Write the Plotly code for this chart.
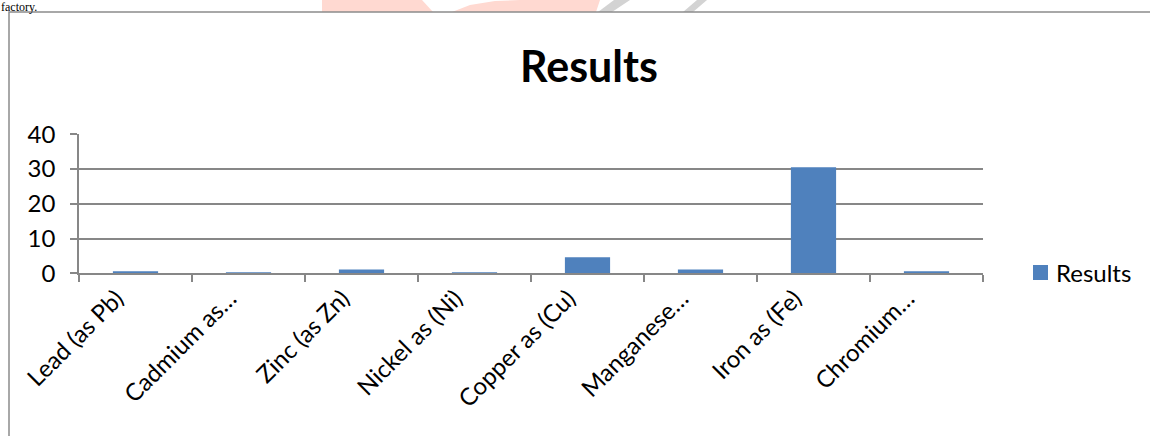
import plotly.graph_objects as go

# Metal concentrations in the effluent sample
elements = [
    "Lead (as Pb)",
    "Cadmium as…",
    "Zinc (as Zn)",
    "Nickel as (Ni)",
    "Copper as (Cu)",
    "Manganese…",
    "Iron as (Fe)",
    "Chromium…",
]
results = [0.6, 0.1, 1.1, 0.15, 4.6, 1.1, 30.5, 0.35]
y_ticks = [0, 10, 20, 30, 40]
series_name = "Results"
chart_title = "Results"

W, H = 1150, 436
FONT = "Lato"
BAR = "#4F81BD"
GRID = "#878787"


def px(x):
    return x / W


def py(y):
    return 1 - y / H


def poly(points):
    return "M" + "L".join(f"{px(x)},{py(y)}" for x, y in points) + "Z"


def deco(points, color):
    return dict(type="path", xref="paper", yref="paper", path=poly(points),
                fillcolor=color, line=dict(width=0), layer="below")


fig = go.Figure(
    go.Bar(
        x=elements,
        y=results,
        name=series_name,
        marker=dict(color=BAR, line=dict(width=0)),
        width=0.4,
        showlegend=False,
    )
)

shapes = [
    # page decoration peeking above the chart frame
    deco([(322, 0), (422, 0), (433, 12), (322, 12)], "#FFD9D1"),
    deco([(452, 12), (470, 5), (495, 1), (520, 0), (600, 0), (596, 12)], "#FFD9D1"),
    deco([(598, 12), (612, 12), (630, 0), (614, 0)], "#D3D3D3"),
    deco([(683, 12), (693, 12), (707, 0), (697, 0)], "#D3D3D3"),
    # chart frame
    dict(type="rect", xref="paper", yref="paper",
         x0=px(9), x1=px(1170), y0=py(460), y1=py(12),
         fillcolor="white", line=dict(color="#8C8C8C", width=1.5), layer="below"),
    # legend swatch
    dict(type="rect", xref="paper", yref="paper",
         x0=px(1033), x1=px(1048), y0=py(280), y1=py(265),
         fillcolor=BAR, line=dict(width=0)),
]

annotations = [
    dict(text="factory.", xref="paper", yref="paper", x=px(0), y=py(-1),
         xanchor="left", yanchor="top", showarrow=False, borderpad=0,
         font=dict(family="Liberation Serif", size=12, color="black")),
    dict(text=series_name, xref="paper", yref="paper", x=px(1054), y=py(272.5),
         xanchor="left", yanchor="middle", showarrow=False,
         font=dict(family=FONT, size=24, color="black")),
]

fig.update_layout(
    width=W,
    height=H,
    margin=dict(l=0, r=0, t=0, b=0, autoexpand=False),
    paper_bgcolor="white",
    plot_bgcolor="rgba(0,0,0,0)",
    title=dict(
        text=f"<b>{chart_title}</b>",
        x=px(589), y=py(67), xanchor="center", yanchor="middle",
        font=dict(family=FONT, size=43, color="black"),
    ),
    shapes=shapes,
    annotations=annotations,
    bargap=0.6,
    xaxis=dict(
        domain=[px(79), px(983)],
        type="category",
        automargin=False,
        showgrid=False,
        showline=True,
        linecolor=GRID,
        linewidth=1.5,
        ticks="outside",
        tickson="boundaries",
        ticklen=7,
        tickcolor=GRID,
        tickwidth=1.5,
        tickangle=-45,
        ticklabelshift=-19,
        tickfont=dict(family=FONT, size=24, color="black"),
    ),
    yaxis=dict(
        domain=[py(273.3), py(134.3)],
        range=[0, 40],
        tickvals=y_ticks,
        automargin=False,
        showgrid=True,
        gridcolor=GRID,
        gridwidth=1.5,
        zeroline=False,
        showline=True,
        linecolor=GRID,
        linewidth=1.5,
        ticks="outside",
        ticklen=7,
        tickcolor=GRID,
        tickwidth=1.5,
        ticklabelstandoff=10,
        tickfont=dict(family=FONT, size=24, color="black"),
    ),
)

fig.write_html("out.html")
